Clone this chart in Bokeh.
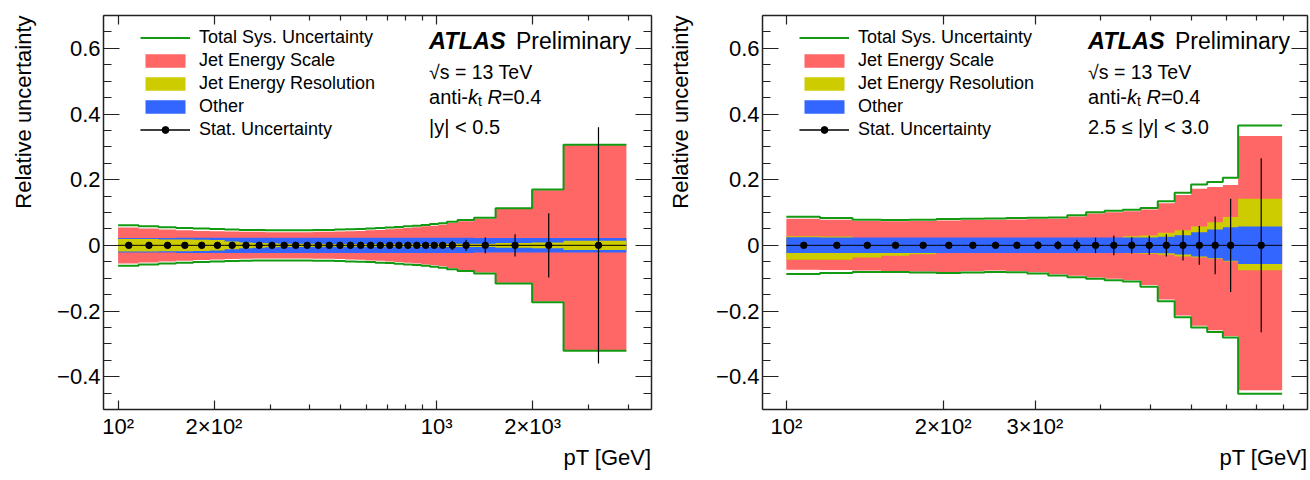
import math
from bokeh.plotting import figure
from bokeh.layouts import row
from bokeh.models import (Range1d, FixedTicker, CustomJSTickFormatter, LogAxis, LinearAxis,
                          Label, Legend, LegendItem, Title)
from bokeh.embed import file_html
from bokeh.resources import INLINE

FONT = "Liberation Sans"
GREEN = "#139a13"
RED = "#ff6666"
YELLOW = "#cccc00"
BLUE = "#3366ff"
FRAME = "#222222"

# ---------------- left panel: |y| < 0.5 ----------------
edges_c = [100, 116, 134, 152, 172, 194, 216, 240, 264, 290, 318, 346, 376, 408, 442, 478, 516,
           556, 598, 642, 688, 736, 786, 838, 894, 952, 1012, 1076, 1162, 1310, 1530, 1992, 2500, 3937]
centers_c = [108, 125, 143, 162, 183, 205, 228, 252, 277, 304, 332, 361, 392, 425, 460, 497, 536,
             577, 620, 665, 712, 761, 812, 866, 923, 982, 1044, 1119, 1236, 1420, 1761, 2246, 3218]
total_up_c = [0.061, 0.058, 0.055, 0.053, 0.051, 0.050, 0.048, 0.047, 0.047, 0.046,
              0.046, 0.046, 0.046, 0.047, 0.047, 0.048, 0.049, 0.050, 0.051, 0.053,
              0.054, 0.056, 0.058, 0.060, 0.062, 0.065, 0.067, 0.072, 0.077, 0.084,
              0.113, 0.170, 0.306]
total_dn_c = [-0.062, -0.058, -0.055, -0.053, -0.051, -0.049, -0.048, -0.047, -0.046, -0.046,
              -0.046, -0.046, -0.046, -0.047, -0.047, -0.048, -0.049, -0.050, -0.051, -0.053,
              -0.054, -0.056, -0.058, -0.060, -0.062, -0.065, -0.068, -0.073, -0.078, -0.086,
              -0.116, -0.173, -0.321]
jes_up_c = [0.054, 0.051, 0.048, 0.046, 0.044, 0.043, 0.042, 0.041, 0.041, 0.040,
            0.040, 0.040, 0.040, 0.041, 0.041, 0.042, 0.043, 0.044, 0.046, 0.047,
            0.049, 0.051, 0.053, 0.055, 0.058, 0.060, 0.063, 0.068, 0.073, 0.081,
            0.111, 0.168, 0.305]
jes_dn_c = [-0.055, -0.052, -0.049, -0.047, -0.045, -0.043, -0.042, -0.041, -0.040, -0.040,
            -0.040, -0.040, -0.040, -0.041, -0.041, -0.042, -0.043, -0.044, -0.046, -0.047,
            -0.049, -0.051, -0.053, -0.055, -0.058, -0.061, -0.064, -0.069, -0.075, -0.083,
            -0.114, -0.171, -0.320]
jer_c = [0.019, 0.019, 0.018, 0.018, 0.017, 0.016, 0.012, 0.009, 0.007, 0.006,
         0.005, 0.005, 0.005, 0.005, 0.004, 0.004, 0.004, 0.004, 0.004, 0.004,
         0.004, 0.004, 0.004, 0.004, 0.004, 0.004, 0.005, 0.005, 0.005, 0.005,
         0.007, 0.009, 0.014]
other_c = [0.022, 0.022, 0.022, 0.023, 0.023, 0.023, 0.023, 0.023, 0.023, 0.023,
           0.023, 0.023, 0.023, 0.023, 0.023, 0.023, 0.023, 0.023, 0.023, 0.023,
           0.023, 0.023, 0.023, 0.023, 0.023, 0.023, 0.023, 0.023, 0.023, 0.022,
           0.022, 0.022, 0.022]
stat_c = [0.001, 0.001, 0.001, 0.001, 0.001, 0.001, 0.001, 0.001, 0.001, 0.001,
          0.001, 0.001, 0.001, 0.001, 0.002, 0.002, 0.002, 0.002, 0.003, 0.003,
          0.003, 0.004, 0.004, 0.005, 0.005, 0.006, 0.008, 0.014, 0.017, 0.024,
          0.034, 0.098, 0.360]

# ---------------- right panel: 2.5 <= |y| < 3.0 ----------------
edges_f = [100, 116, 134, 152, 172, 194, 216, 240, 264, 290, 318, 346, 376, 408, 442, 478, 516,
           556, 598, 642, 688, 736, 894]
centers_f = [108, 125, 143, 162, 183, 205, 228, 252, 277, 304, 332, 361, 392, 425, 460, 497, 536,
             577, 620, 665, 712, 815]
total_up_f = [0.087, 0.083, 0.078, 0.077, 0.078, 0.080, 0.081, 0.082, 0.083, 0.084,
              0.085, 0.092, 0.101, 0.105, 0.108, 0.114, 0.134, 0.160, 0.185, 0.193,
              0.206, 0.365]
total_dn_f = [-0.087, -0.084, -0.081, -0.081, -0.083, -0.084, -0.083, -0.081, -0.082, -0.086,
              -0.092, -0.097, -0.102, -0.106, -0.110, -0.126, -0.170, -0.219, -0.250, -0.264,
              -0.281, -0.452]
jes_up_f = [0.081, 0.078, 0.074, 0.073, 0.074, 0.076, 0.077, 0.078, 0.079, 0.080,
            0.081, 0.088, 0.097, 0.101, 0.104, 0.109, 0.128, 0.153, 0.172, 0.178,
            0.184, 0.333]
jes_dn_f = [-0.074, -0.075, -0.077, -0.078, -0.080, -0.081, -0.079, -0.077, -0.078, -0.082,
            -0.088, -0.093, -0.098, -0.102, -0.106, -0.121, -0.165, -0.214, -0.245, -0.259,
            -0.276, -0.441]
jer_up_f = [0.028, 0.027, 0.022, 0.020, 0.018, 0.016, 0.015, 0.015, 0.015, 0.015,
            0.016, 0.017, 0.019, 0.022, 0.028, 0.030, 0.038, 0.046, 0.057, 0.070,
            0.086, 0.142]
jer_dn_f = [-0.044, -0.044, -0.037, -0.032, -0.027, -0.022, -0.019, -0.018, -0.017, -0.016,
            -0.016, -0.017, -0.018, -0.020, -0.024, -0.026, -0.029, -0.034, -0.037, -0.042,
            -0.049, -0.076]
other_up_f = [0.025, 0.024, 0.024, 0.024, 0.024, 0.024, 0.024, 0.024, 0.024, 0.024,
              0.024, 0.024, 0.024, 0.024, 0.024, 0.024, 0.026, 0.031, 0.040, 0.048,
              0.055, 0.057]
other_dn_f = [-0.023, -0.023, -0.023, -0.023, -0.023, -0.023, -0.023, -0.023, -0.023, -0.023,
              -0.023, -0.023, -0.023, -0.023, -0.023, -0.023, -0.024, -0.028, -0.034, -0.039,
              -0.047, -0.057]
stat_f = [0.004, 0.008, 0.008, 0.007, 0.008, 0.008, 0.009, 0.009, 0.010, 0.012,
          0.013, 0.017, 0.023, 0.030, 0.025, 0.029, 0.034, 0.046, 0.059, 0.088,
          0.142, 0.265]

# tick labels
xlabels_c = {"100": "10²", "200": "2×10²", "1000": "10³", "2000": "2×10³"}
xminor_c = [300, 400, 500, 600, 700, 800, 900, 3000, 4000]
xlabels_f = {"100": "10²", "200": "2×10²", "300": "3×10²"}
xminor_f = [400, 500, 600, 700, 800, 900]
legend_labels = ["Total Sys. Uncertainty", "Jet Energy Scale", "Jet Energy Resolution",
                 "Other", "Stat. Uncertainty"]


def js_labels(mapping):
    entries = ",".join('"%s":"%s"' % (k, v) for k, v in mapping.items())
    return CustomJSTickFormatter(
        code="const m = {" + entries + "}; const s = m[String(Math.round(tick))]; return s === undefined ? '' : s;")


YFMT = "if (Math.abs(tick) < 1e-9) { return '0'; } return (tick < 0 ? '\u2212' : '') + Math.abs(tick).toFixed(1);"


def ext(v):
    return list(v) + [v[-1]]


def tl_label(p, text, dx, dy, size, style="normal", align="left"):
    p.add_layout(Label(x=p.x_range.start, y=p.y_range.end, x_offset=dx, y_offset=-dy,
                       text=text, text_font=FONT, text_font_size="%spx" % size,
                       text_font_style=style, text_align=align, text_baseline="alphabetic",
                       text_color="black"))


def panel(width, bl, br, x_end, edges, centers, tot_up, tot_dn, jes_up, jes_dn,
          jer_up, jer_dn, oth_up, oth_dn, stat, jer_on_top, xmajor, xminor, xlabels,
          region, ylab_gap):
    p = figure(width=width, height=478, x_axis_type="log",
               x_range=Range1d(90, x_end), y_range=Range1d(-0.5, 0.7),
               output_backend="svg", toolbar_location=None,
               min_border_left=bl, min_border_right=br, min_border_top=15, min_border_bottom=69)
    p.xgrid.visible = False
    p.ygrid.visible = False
    p.outline_line_color = None
    p.background_fill_color = "white"
    p.border_fill_color = "white"

    # bands
    r_jes = p.varea_step(x=edges, y1=ext(jes_dn), y2=ext(jes_up), step_mode="after", fill_color=RED)
    r_jer = p.varea_step(x=edges, y1=ext(jer_dn), y2=ext(jer_up), step_mode="after", fill_color=YELLOW)
    r_oth = p.varea_step(x=edges, y1=ext(oth_dn), y2=ext(oth_up), step_mode="after", fill_color=BLUE)
    if jer_on_top:
        # yellow drawn above blue
        p.renderers.remove(r_jer)
        p.renderers.insert(p.renderers.index(r_oth) + 1, r_jer)
    r_tot = p.step(x=edges, y=ext(tot_up), mode="after", line_color=GREEN, line_width=2)
    p.step(x=edges, y=ext(tot_dn), mode="after", line_color=GREEN, line_width=2)

    # stat points
    zeros = [0.0 for _ in centers]
    r_h = p.segment(x0=edges[:-1], x1=edges[1:], y0=zeros, y1=zeros, line_color="black", line_width=1)
    r_e = p.segment(x0=centers, x1=centers, y0=[-s for s in stat], y1=stat,
                    line_color="black", line_width=1.2)
    r_d = p.scatter(x=centers, y=zeros, size=6.5, marker="circle", fill_color="black", line_color="black")

    # axes
    xb = p.xaxis[0]
    yl = p.yaxis[0]
    xt = LogAxis()
    yr = LinearAxis()
    p.add_layout(xt, "above")
    p.add_layout(yr, "right")
    xtick = FixedTicker(ticks=xmajor, minor_ticks=xminor)
    ytick = FixedTicker(ticks=[-0.4, -0.2, 0.0, 0.2, 0.4, 0.6],
                        minor_ticks=[round(-0.5 + 0.05 * i, 2) for i in range(25)])
    for ax in (xb, xt):
        ax.ticker = xtick
        ax.major_tick_in = 9
        ax.minor_tick_in = 5
    for ax in (yl, yr):
        ax.ticker = ytick
        ax.major_tick_in = 16
        ax.minor_tick_in = 8
    for ax in (xb, xt, yl, yr):
        ax.major_tick_out = 0
        ax.minor_tick_out = 0
        ax.axis_line_color = FRAME
        ax.axis_line_width = 1.5
        ax.major_tick_line_color = FRAME
        ax.minor_tick_line_color = FRAME
        ax.major_tick_line_width = 1.2
        ax.minor_tick_line_width = 1.2
        ax.major_label_text_font = FONT
        ax.major_label_text_color = "black"
    xb.formatter = js_labels(xlabels)
    xb.major_label_text_font_size = "22px"
    xb.major_label_standoff = 4
    yl.formatter = CustomJSTickFormatter(code=YFMT)
    yl.major_label_text_font_size = "22px"
    yl.major_label_standoff = 3
    # invisible spacer label to push the axis title outwards
    yl.axis_label = " "
    yl.axis_label_text_font_size = "1px"
    yl.axis_label_standoff = ylab_gap
    for ax in (xt, yr):
        ax.formatter = CustomJSTickFormatter(code="return '';")
        ax.major_label_text_font_size = "0px"
        ax.major_label_standoff = 0

    # axis titles
    p.add_layout(Title(text="Relative uncertainty", align="right", text_font=FONT,
                       text_font_size="22px", text_font_style="normal", text_color="black",
                       standoff=4), "left")
    p.add_layout(Title(text="pT [GeV]", align="right", text_font=FONT,
                       text_font_size="22px", text_font_style="normal", text_color="black",
                       standoff=3), "below")

    # legend
    items = [LegendItem(label=legend_labels[0], renderers=[r_tot]),
             LegendItem(label=legend_labels[1], renderers=[r_jes]),
             LegendItem(label=legend_labels[2], renderers=[r_jer]),
             LegendItem(label=legend_labels[3], renderers=[r_oth]),
             LegendItem(label=legend_labels[4], renderers=[r_h, r_e, r_d])]
    leg = Legend(items=items, location=(37, 269), glyph_width=50, glyph_height=17,
                 label_height=17, label_standoff=9, spacing=2, padding=0, margin=0,
                 border_line_color=None, background_fill_alpha=0,
                 label_text_font=FONT, label_text_font_size="18px", label_text_color="black")
    p.add_layout(leg)

    # texts
    tl_label(p, "ATLAS", 325.6, 25, 23.5, style="bold italic")
    tl_label(p, "Preliminary", 412.5, 25, 23)
    tl_label(p, "√s = 13 TeV", 325.6, 56, 19.5)
    tl_label(p, "anti-", 325.6, 81.5, 20)
    tl_label(p, "k", 364.5, 81.5, 20, style="italic")
    tl_label(p, "t", 374.5, 85.5, 14)
    tl_label(p, "R", 384.0, 81.5, 20, style="italic")
    tl_label(p, "=0.4", 398.4, 81.5, 20)
    tl_label(p, region, 325.6, 111, 20)
    return p


p1 = panel(655, 103, 4, 4720, edges_c, centers_c, total_up_c, total_dn_c, jes_up_c, jes_dn_c,
           jer_c, [-v for v in jer_c], other_c, [-v for v in other_c], stat_c, True,
           [100, 200, 1000, 2000], xminor_c, xlabels_c, "|y| < 0.5", 12)
p2 = panel(655, 107, 3, 1000, edges_f, centers_f, total_up_f, total_dn_f, jes_up_f, jes_dn_f,
           jer_up_f, jer_dn_f, other_up_f, other_dn_f, stat_f, False,
           [100, 200, 300], xminor_f, xlabels_f, "2.5 ≤ |y| < 3.0", 14)

layout = row(p1, p2)
open("out.html", "w").write(file_html(layout, INLINE, title="ATLAS jet uncertainties"))
